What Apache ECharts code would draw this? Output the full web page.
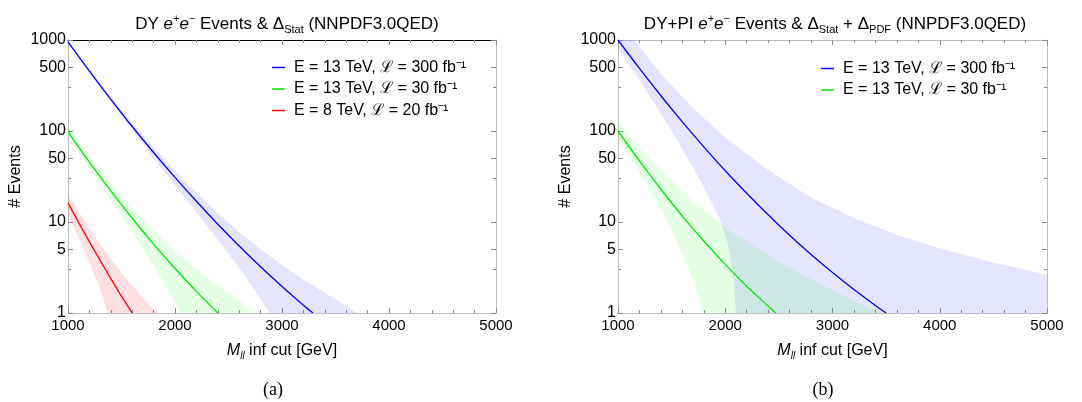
<!DOCTYPE html>
<html>
<head>
<meta charset="utf-8">
<script src="https://cdn.jsdelivr.net/npm/echarts@6/dist/echarts.min.js"></script>
<style>html,body{margin:0;padding:0;background:#fff}#c{width:1082px;height:402px}</style>
</head>
<body>
<div id="c"></div>
<script>
// ---------- data (M_ll cut [GeV], number of events) ----------
const xTicks = [1000, 2000, 3000, 4000, 5000];
const yTickLabels = [1, 5, 10, 50, 100, 500, 1000];
const yMinorTicks = [3, 30, 300];

const legendNames = ['E = 13 TeV, ℒ = 300 fb⁻¹', 'E = 13 TeV, ℒ = 30 fb⁻¹', 'E = 8 TeV, ℒ = 20 fb⁻¹'];

// panel (a): DY, statistical band
const aBlue = [[1000,955],[1200,456],[1400,223],[1600,112],[1800,58.1],[2000,30.9],[2200,16.9],[2400,9.46],[2600,5.45],[2800,3.22],[3000,1.96],[3200,1.22],[3290,1]];
const aBlueLow = [[1000,924],[1200,435],[1400,208],[1600,101],[1800,50.5],[2000,25.3],[2200,12.8],[2400,6.38],[2600,3.12],[2800,1.43],[2885,1]];
const aBlueHigh = [[1000,986],[1200,477],[1400,238],[1600,123],[1800,65.7],[2000,36.5],[2200,21.0],[2400,12.5],[2600,7.78],[2800,5.01],[3000,3.36],[3200,2.32],[3400,1.67],[3600,1.2],[3700,1]];

const aGreen = [[1000,97.7],[1200,45.5],[1400,22.0],[1600,11.0],[1800,5.71],[2000,3.08],[2200,1.73],[2400,1]];
const aGreenLow = [[1000,87.8],[1200,38.8],[1400,17.3],[1600,7.7],[1800,3.32],[2000,1.33],[2050,1]];
const aGreenHigh = [[1000,107.6],[1200,52.3],[1400,26.7],[1600,14.3],[1800,8.1],[2000,4.83],[2200,3.05],[2400,2.0],[2600,1.38],[2750,1]];

const aRed = [[1000,16.2],[1100,9.84],[1200,6.05],[1300,3.78],[1400,2.39],[1500,1.53],[1600,1]];
const aRedLow = [[1000,12.2],[1100,6.7],[1200,3.59],[1300,1.84],[1370,1]];
const aRedHigh = [[1000,20.2],[1100,13.0],[1200,8.51],[1300,5.72],[1400,3.94],[1500,2.77],[1600,2.0],[1700,1.47],[1830,1]];

// panel (b): DY+PI, statistical + PDF band
const bBlue = [[1000,1000],[1200,487],[1400,244],[1600,126],[1800,67],[2000,36.6],[2200,20.7],[2400,12.0],[2600,7.14],[2800,4.39],[3000,2.78],[3200,1.81],[3400,1.21],[3500,1]];
const bBlueLow = [[1000,794],[1120,501],[1300,240],[1500,100],[1700,39.8],[1850,18.6],[1950,10.7],[2020,6.03],[2060,3.31],[2085,1.86],[2100,1],[5000,1]];
const bBlueHigh = [[1000,1000],[1150,1000],[1400,427],[1700,178],[2000,85],[2400,37.2],[2800,18.6],[3200,11.0],[3600,7.24],[4000,5.13],[4500,3.59],[5000,2.63]];

const bGreen = [[1000,100],[1200,46.9],[1400,22.9],[1600,11.6],[1800,6.18],[2000,3.42],[2200,1.97],[2400,1.19],[2470,1]];
const bGreenLow = [[1000,79.4],[1150,43.7],[1300,22.4],[1450,10.7],[1600,4.57],[1700,2.29],[1790,1]];
const bGreenHigh = [[1000,126],[1300,49.5],[1650,18.8],[2030,8.2],[2500,3.64],[2970,1.86],[3440,1]];

// ---------- styling ----------
const SANS = "'Liberation Sans', Arial, sans-serif";
const SERIF = "'Liberation Serif', serif";
const BLUE = '#0000ff', GREEN = '#00e600', RED = '#ff0000';
const BLUE_F = 'rgba(0,0,255,0.10)', GREEN_F = 'rgba(0,255,0,0.10)', RED_F = 'rgba(255,0,0,0.12)';
const AXIS_GRAY = '#bdbdbd', TICK = '#8a8a8a';

const chart = echarts.init(document.getElementById('c'), null, {renderer: 'canvas'});

function xAxisPair(grid, topColor) {
  const common = {
    type: 'value', gridIndex: grid, min: 1000, max: 5000, interval: 1000,
    splitLine: {show: false},
    axisTick: {inside: true, length: 5, lineStyle: {color: TICK}},
    minorTick: {show: true, splitNumber: 5, length: 3, lineStyle: {color: TICK}},
  };
  return [
    Object.assign({}, common, {
      position: 'bottom',
      axisLine: {onZero: false, lineStyle: {color: AXIS_GRAY, width: 1}},
      axisLabel: {fontSize: 15, color: '#000', fontFamily: SANS, margin: 5,
        customValues: xTicks, formatter: v => String(v)},
      name: '{i|M}{s|ll}{n| inf cut [GeV]}',
      nameLocation: 'middle', nameGap: 28,
      nameTextStyle: {rich: {
        i: {fontSize: 16, fontStyle: 'italic', fontFamily: SANS, color: '#000', lineHeight: 20},
        s: {fontSize: 10, fontStyle: 'italic', fontFamily: SANS, color: '#000', lineHeight: 10, verticalAlign: 'bottom'},
        n: {fontSize: 16, fontFamily: SANS, color: '#000', lineHeight: 20}
      }}
    }),
    Object.assign({}, common, {
      position: 'top',
      axisLine: {onZero: false, lineStyle: {color: topColor, width: 1}},
      axisLabel: {show: false}
    })
  ];
}

const logPos = v => Math.log10(v);

function yAxesFor(grid) {
  const base = {type: 'value', gridIndex: grid, min: 0, max: 3, splitLine: {show: false}};
  return [
    // data axis (log scale)
    {type: 'log', logBase: 10, gridIndex: grid, min: 1, max: 1000, show: false},
    // left frame with labels
    Object.assign({}, base, {
      position: 'left',
      axisLine: {show: true, lineStyle: {color: AXIS_GRAY}},
      axisTick: {show: true, inside: true, length: 5, lineStyle: {color: TICK}, customValues: yTickLabels.map(logPos)},
      axisLabel: {show: true, fontSize: 16, color: '#000', fontFamily: SANS, margin: 2,
        customValues: yTickLabels.map(logPos),
        formatter: v => String(Math.round(Math.pow(10, v)))},
      name: '# Events', nameLocation: 'middle', nameGap: 44,
      nameTextStyle: {fontSize: 16, fontFamily: SANS, color: '#000'}
    }),
    // right frame
    Object.assign({}, base, {
      position: 'right',
      axisLine: {show: true, lineStyle: {color: AXIS_GRAY}},
      axisTick: {show: true, inside: true, length: 5, lineStyle: {color: TICK}, customValues: yTickLabels.map(logPos)},
      axisLabel: {show: false}
    }),
    // minor ticks left
    Object.assign({}, base, {
      position: 'left', axisLine: {show: false},
      axisTick: {show: true, inside: true, length: 3, lineStyle: {color: TICK}, customValues: yMinorTicks.map(logPos)},
      axisLabel: {show: false}
    }),
    // minor ticks right
    Object.assign({}, base, {
      position: 'right', axisLine: {show: false},
      axisTick: {show: true, inside: true, length: 3, lineStyle: {color: TICK}, customValues: yMinorTicks.map(logPos)},
      axisLabel: {show: false}
    })
  ];
}

function band(xi, yi, lower, upper, fill) {
  return {
    type: 'custom', xAxisIndex: xi, yAxisIndex: yi, silent: true, z: 1, clip: true,
    data: [lower[0]],
    renderItem: function (params, api) {
      const pts = lower.concat(upper.slice().reverse()).map(p => api.coord(p));
      return {type: 'polygon', shape: {points: pts, smooth: 0}, style: {fill: fill}};
    }
  };
}

function line(name, xi, yi, data, color) {
  return {
    type: 'line', name: name, xAxisIndex: xi, yAxisIndex: yi, data: data,
    showSymbol: false, symbol: 'none', smooth: 0.35, z: 3, clip: true, color: color,
    lineStyle: {color: color, width: 1.3}
  };
}

const titleRich = {
  n: {fontSize: 17, fontFamily: SANS, fontWeight: 'normal', color: '#000', lineHeight: 22},
  i: {fontSize: 17, fontFamily: SANS, fontWeight: 'normal', fontStyle: 'italic', color: '#000', lineHeight: 22},
  sp: {fontSize: 11, fontFamily: SANS, fontWeight: 'normal', color: '#000', lineHeight: 11, verticalAlign: 'top'},
  sb: {fontSize: 11, fontFamily: SANS, fontWeight: 'normal', color: '#000', lineHeight: 11, verticalAlign: 'bottom'}
};

const legendText = {fontSize: 16, fontFamily: SANS, color: '#000', lineHeight: 17, padding: [0, 0, 0, 4]};

const option = {
  animation: false,
  backgroundColor: '#fff',
  title: [
    {text: '{n|DY }{i|e}{sp|+}{i|e}{sp|−}{n| Events & Δ}{sb|Stat}{n| (NNPDF3.0QED)}',
     left: 282, top: 8, textAlign: 'center', textStyle: {fontWeight: 'normal', rich: titleRich}},
    {text: '{n|DY+PI }{i|e}{sp|+}{i|e}{sp|−}{n| Events & Δ}{sb|Stat}{n| + Δ}{sb|PDF}{n| (NNPDF3.0QED)}',
     left: 830, top: 8, textAlign: 'center', textStyle: {fontWeight: 'normal', rich: titleRich}},
    {text: '(a)', left: 268, top: 376, textAlign: 'center',
     textStyle: {fontSize: 18, fontWeight: 'normal', fontFamily: SERIF, color: '#000'}},
    {text: '(b)', left: 818, top: 376, textAlign: 'center',
     textStyle: {fontSize: 18, fontWeight: 'normal', fontFamily: SERIF, color: '#000'}}
  ],
  legend: [
    {data: legendNames, left: 267, top: 54, orient: 'vertical', icon: 'rect',
     itemWidth: 13, itemHeight: 1.5, itemGap: 4.5, selectedMode: false, textStyle: legendText},
    {data: legendNames.slice(0, 2), left: 816, top: 55, orient: 'vertical', icon: 'rect',
     itemWidth: 13, itemHeight: 1.5, itemGap: 4.5, selectedMode: false, textStyle: legendText}
  ],
  grid: [
    {left: 68, top: 40, width: 428, height: 273},
    {left: 618, top: 40, width: 429, height: 273}
  ],
  xAxis: xAxisPair(0, '#000').concat(xAxisPair(1, AXIS_GRAY)),
  yAxis: yAxesFor(0).concat(yAxesFor(1)),
  series: [
    band(0, 0, aBlueLow, aBlueHigh, BLUE_F),
    band(0, 0, aGreenLow, aGreenHigh, GREEN_F),
    band(0, 0, aRedLow, aRedHigh, RED_F),
    line(legendNames[0], 0, 0, aBlue, BLUE),
    line(legendNames[1], 0, 0, aGreen, GREEN),
    line(legendNames[2], 0, 0, aRed, RED),
    band(2, 5, bBlueLow, bBlueHigh, BLUE_F),
    band(2, 5, bGreenLow, bGreenHigh, GREEN_F),
    line(legendNames[0], 2, 5, bBlue, BLUE),
    line(legendNames[1], 2, 5, bGreen, GREEN)
  ]
};
chart.setOption(option);
</script>
</body>
</html>
